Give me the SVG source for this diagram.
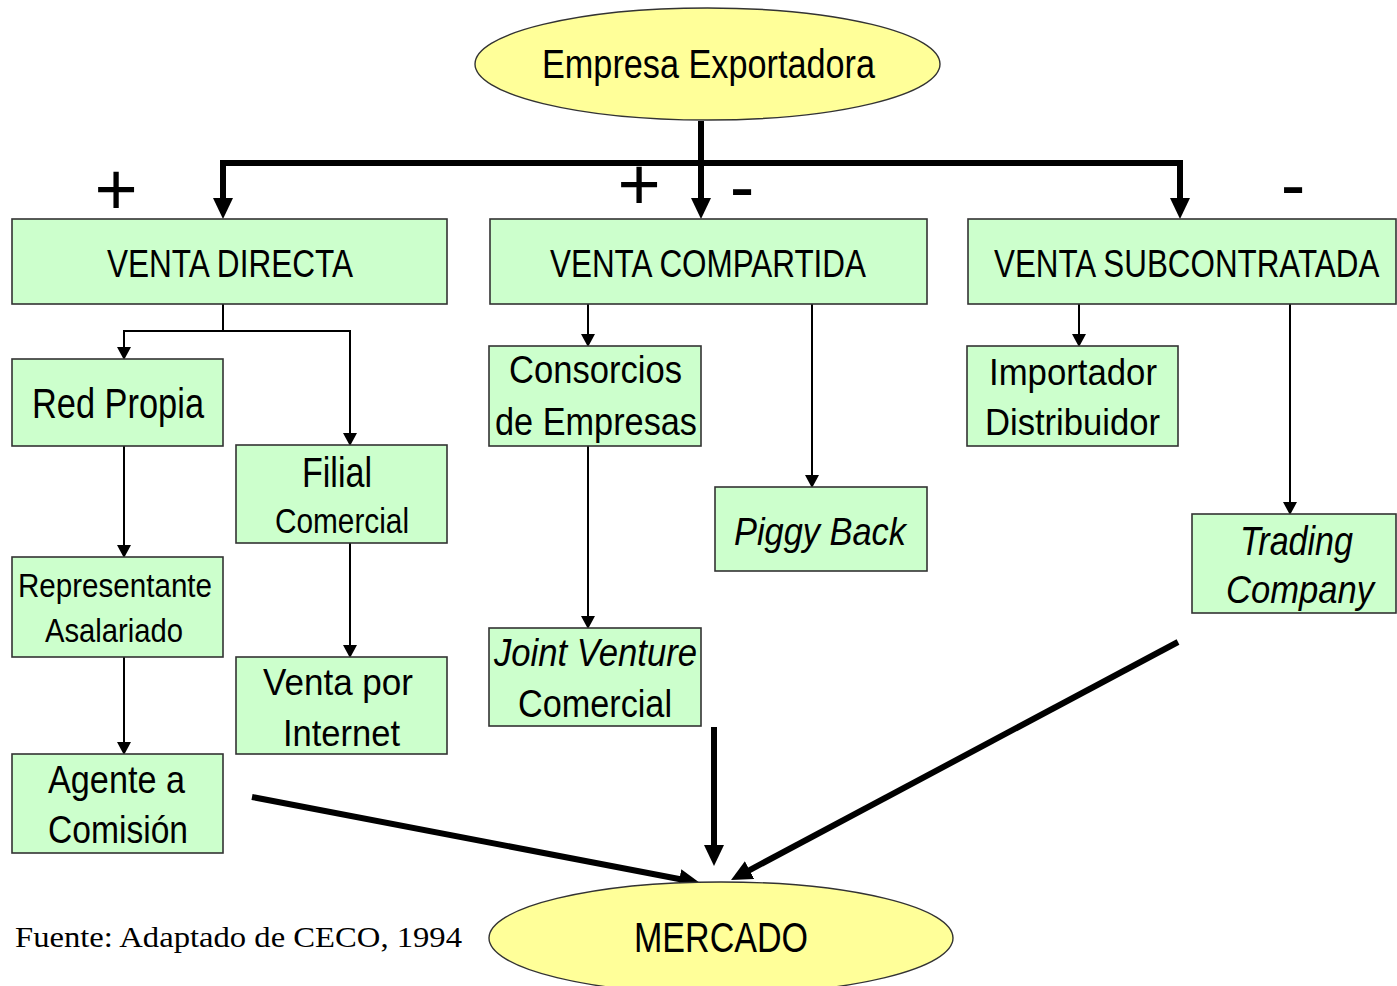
<svg xmlns="http://www.w3.org/2000/svg" width="1397" height="986" viewBox="0 0 1397 986">
<style>
.box{fill:#CCFFCC;stroke:#333;stroke-width:1.6}
.ell{fill:#FFFF99;stroke:#333;stroke-width:1.4}
.t{font-family:"Liberation Sans",Arial,sans-serif;fill:#000}
.i{font-style:italic}
.thin{fill:none;stroke:#000;stroke-width:2}
.thick{fill:none;stroke:#000;stroke-width:6;stroke-linejoin:miter}
.sign{font-family:"Liberation Sans",Arial,sans-serif;font-size:74px;fill:#000;text-anchor:middle}
</style>
<defs>
<marker id="ah" markerUnits="userSpaceOnUse" viewBox="0 -10 21 20" refX="1" refY="0" markerWidth="21" markerHeight="20" orient="auto">
<path d="M0,-10 L21,0 L0,10 z" fill="#000"/>
</marker>
<marker id="as" markerUnits="userSpaceOnUse" viewBox="0 -7 13 14" refX="1" refY="0" markerWidth="13" markerHeight="14" orient="auto">
<path d="M0,-7 L13,0 L0,7 z" fill="#000"/>
</marker>
</defs>
<rect width="1397" height="986" fill="#fff"/>

<g id="connectors">
<path class="thick" d="M701,121 V199" marker-end="url(#ah)"/>
<path class="thick" d="M701,163 H223 V199" marker-end="url(#ah)"/>
<path class="thick" d="M701,163 H1180 V199" marker-end="url(#ah)"/>
<path class="thin" d="M223,304 V331 H124 V348" marker-end="url(#as)"/>
<path class="thin" d="M223,331 H350 V434" marker-end="url(#as)"/>
<path class="thin" d="M124,446 V546" marker-end="url(#as)"/>
<path class="thin" d="M124,657 V743" marker-end="url(#as)"/>
<path class="thin" d="M350,543 V646" marker-end="url(#as)"/>
<path class="thin" d="M588,304 V335" marker-end="url(#as)"/>
<path class="thin" d="M812,304 V476" marker-end="url(#as)"/>
<path class="thin" d="M588,446 V617" marker-end="url(#as)"/>
<path class="thin" d="M1079,304 V335" marker-end="url(#as)"/>
<path class="thin" d="M1290,304 V503" marker-end="url(#as)"/>
<path class="thick" d="M252,797 L680.4,879.2" marker-end="url(#ah)"/>
<path class="thick" d="M714,727 V846" marker-end="url(#ah)"/>
<path class="thick" d="M1178,642 L748.7,870.6" marker-end="url(#ah)"/>
</g>

<g id="signs">
<text class="sign" x="116" y="215">+</text>
<text class="sign" x="639" y="210">+</text>
<text class="sign" x="742" y="212">-</text>
<text class="sign" x="1293" y="210">-</text>
</g>

<g id="empresa">
<ellipse class="ell" cx="707.5" cy="64" rx="232.5" ry="56"/>
<text class="t" x="542" y="78" font-size="40" textLength="333" lengthAdjust="spacingAndGlyphs">Empresa Exportadora</text>
</g>

<g id="venta-directa">
<rect class="box" x="12" y="219" width="435" height="85"/>
<text class="t" x="107" y="277" font-size="38" textLength="246" lengthAdjust="spacingAndGlyphs">VENTA DIRECTA</text>
</g>
<g id="venta-compartida">
<rect class="box" x="490" y="219" width="437" height="85"/>
<text class="t" x="550" y="277" font-size="38" textLength="316" lengthAdjust="spacingAndGlyphs">VENTA COMPARTIDA</text>
</g>
<g id="venta-subcontratada">
<rect class="box" x="968" y="219" width="428" height="85"/>
<text class="t" transform="translate(994,277) scale(0.826,1)" x="0" y="0" font-size="38">VENTA SUBCONTRATADA</text>
</g>

<g id="red-propia">
<rect class="box" x="12" y="359" width="211" height="87"/>
<text class="t" x="32" y="418" font-size="42" textLength="172" lengthAdjust="spacingAndGlyphs">Red Propia</text>
</g>
<g id="filial-comercial">
<rect class="box" x="236" y="445" width="211" height="98"/>
<text class="t" x="302" y="487" font-size="42" textLength="70" lengthAdjust="spacingAndGlyphs">Filial</text>
<text class="t" x="275" y="533" font-size="35" textLength="134" lengthAdjust="spacingAndGlyphs">Comercial</text>
</g>
<g id="representante">
<rect class="box" x="12" y="557" width="211" height="100"/>
<text class="t" x="18" y="597" font-size="34" textLength="194" lengthAdjust="spacingAndGlyphs">Representante</text>
<text class="t" x="45" y="642" font-size="34" textLength="138" lengthAdjust="spacingAndGlyphs">Asalariado</text>
</g>
<g id="venta-internet">
<rect class="box" x="236" y="657" width="211" height="97"/>
<text class="t" x="263" y="695" font-size="37" textLength="150" lengthAdjust="spacingAndGlyphs">Venta por</text>
<text class="t" x="283" y="746" font-size="37" textLength="117" lengthAdjust="spacingAndGlyphs">Internet</text>
</g>
<g id="agente">
<rect class="box" x="12" y="754" width="211" height="99"/>
<text class="t" x="48" y="793" font-size="39" textLength="137" lengthAdjust="spacingAndGlyphs">Agente a</text>
<text class="t" x="48" y="843" font-size="38" textLength="140" lengthAdjust="spacingAndGlyphs">Comisión</text>
</g>

<g id="consorcios">
<rect class="box" x="489" y="346" width="212" height="100"/>
<text class="t" x="509" y="383" font-size="38" textLength="173" lengthAdjust="spacingAndGlyphs">Consorcios</text>
<text class="t" x="495" y="435" font-size="39" textLength="202" lengthAdjust="spacingAndGlyphs">de Empresas</text>
</g>
<g id="piggy-back">
<rect class="box" x="715" y="487" width="212" height="84"/>
<text class="t i" x="734" y="545" font-size="39" textLength="172" lengthAdjust="spacingAndGlyphs">Piggy Back</text>
</g>
<g id="joint-venture">
<rect class="box" x="489" y="628" width="212" height="98"/>
<text class="t i" x="494" y="666" font-size="39" textLength="203" lengthAdjust="spacingAndGlyphs">Joint Venture</text>
<text class="t" x="518" y="717" font-size="38" textLength="154" lengthAdjust="spacingAndGlyphs">Comercial</text>
</g>

<g id="importador">
<rect class="box" x="967" y="346" width="211" height="100"/>
<text class="t" x="989" y="385" font-size="36" textLength="168" lengthAdjust="spacingAndGlyphs">Importador</text>
<text class="t" x="985" y="435" font-size="37" textLength="175" lengthAdjust="spacingAndGlyphs">Distribuidor</text>
</g>
<g id="trading">
<rect class="box" x="1192" y="514" width="204" height="99"/>
<text class="t i" x="1240" y="555" font-size="40" textLength="113" lengthAdjust="spacingAndGlyphs">Trading</text>
<text class="t i" x="1226" y="603" font-size="39" textLength="148" lengthAdjust="spacingAndGlyphs">Company</text>
</g>

<g id="mercado">
<ellipse class="ell" cx="721" cy="938" rx="232" ry="56"/>
<text class="t" x="634" y="952" font-size="42" textLength="174" lengthAdjust="spacingAndGlyphs">MERCADO</text>
</g>

<g id="fuente">
<text x="15" y="947" font-family="'Liberation Serif','Times New Roman',serif" font-size="29" textLength="447" lengthAdjust="spacingAndGlyphs">Fuente: Adaptado de CECO, 1994</text>
</g>
</svg>
